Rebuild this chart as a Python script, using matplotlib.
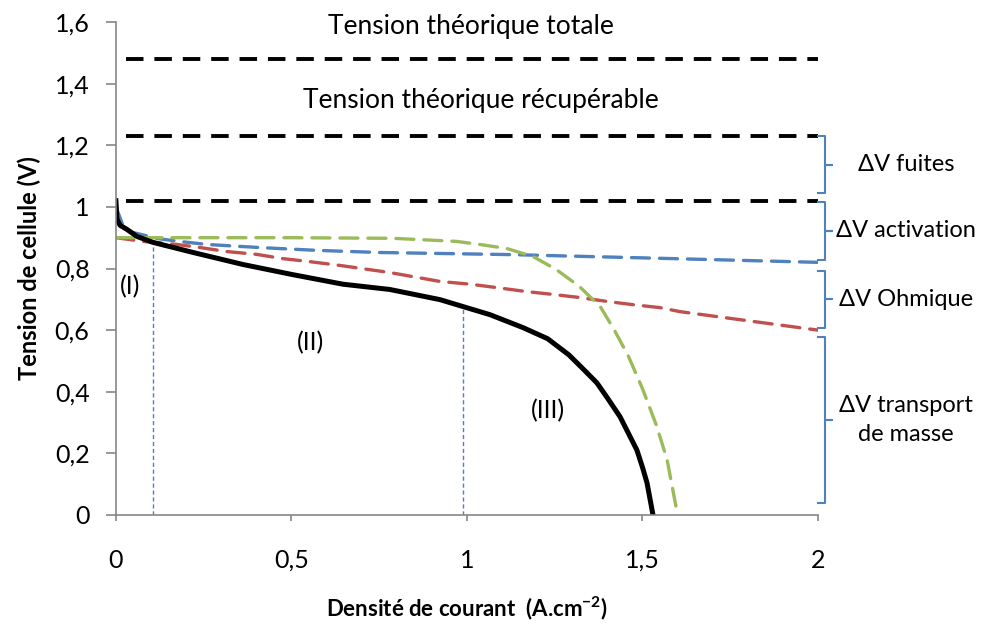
import matplotlib.pyplot as plt

plt.rcParams['font.family'] = ['Lato', 'DejaVu Sans']

# courbe de polarisation réelle
j_real = [0, 0.003, 0.012, 0.03, 0.06, 0.105, 0.22, 0.362, 0.504, 0.647, 0.78, 0.923,
          0.99, 1.066, 1.16, 1.23, 1.29, 1.33, 1.37, 1.40, 1.436, 1.46, 1.484, 1.50, 1.513, 1.53]
v_real = [1.02, 0.96, 0.94, 0.928, 0.904, 0.885, 0.852, 0.813, 0.78, 0.749, 0.732, 0.699,
          0.676, 0.65, 0.608, 0.572, 0.52, 0.475, 0.429, 0.38, 0.319, 0.265, 0.211, 0.155, 0.104, 0.0]

# pertes activation (bleu)
j_act = [0, 0.02, 0.045, 0.12, 0.18, 0.26, 0.41, 0.57, 0.75, 1.13, 1.59, 2.0]
v_act = [1.0, 0.94, 0.918, 0.897, 0.888, 0.878, 0.868, 0.859, 0.852, 0.845, 0.832, 0.82]

# pertes ohmiques (rouge)
j_ohm = [0, 0.077, 0.174, 0.24, 0.316, 0.40, 0.476, 0.547, 0.638, 0.78, 0.923, 1.01,
         1.085, 1.17, 1.236, 1.32, 1.40, 1.47, 1.55, 1.607, 2.0]
v_ohm = [0.9, 0.888, 0.878, 0.868, 0.855, 0.846, 0.832, 0.823, 0.81, 0.787, 0.758, 0.749,
         0.738, 0.725, 0.717, 0.706, 0.693, 0.683, 0.673, 0.66, 0.60]

# transport de masse (vert)
j_mt = [0, 0.5, 0.79, 0.97, 1.037, 1.113, 1.188, 1.254, 1.32, 1.38, 1.42, 1.46, 1.50, 1.54, 1.57, 1.60]
v_mt = [0.90, 0.90, 0.898, 0.888, 0.878, 0.865, 0.839, 0.797, 0.742, 0.676, 0.60, 0.515, 0.41, 0.29, 0.18, 0.0]

# tensions théoriques
v_levels = [1.48, 1.23, 1.02]

# limites des zones (I)/(II)/(III)
zone_j = [0.105, 0.99]
zone_v = [0.885, 0.676]

# accolades : (haut, bas, texte)
braces = [(1.229, 1.044, 'ΔV fuites'),
          (1.015, 0.829, 'ΔV activation'),
          (0.793, 0.608, 'ΔV Ohmique'),
          (0.579, 0.039, 'ΔV transport\nde masse')]

blue = '#4f81bd'
red = '#c0504d'
green = '#9bbb59'
grey = '#868686'

fig = plt.figure(figsize=(10.08, 6.24), dpi=100)
ax = fig.add_axes([0.115, 0.1747, 0.6965, 0.79])

for jz, vz in zip(zone_j, zone_v):
    ax.plot([jz, jz], [0, vz], color=blue, lw=1, dashes=(3, 2))

ax.plot(j_act, v_act, color=blue, lw=2.4, dashes=(5.4, 3), dash_capstyle='round')
ax.plot(j_ohm, v_ohm, color=red, lw=2.4, dashes=(5.4, 3), dash_capstyle='round')
ax.plot(j_mt, v_mt, color=green, lw=2.4, dashes=(5.4, 3), dash_capstyle='round')
ax.plot(j_real, v_real, color='black', lw=3.6, solid_joinstyle='round')

for v in v_levels:
    ax.plot([0.03, 2.0], [v, v], color='black', lw=2.8, dashes=(4.5, 2.8))

ax.text(1.01, 1.584, 'Tension théorique totale', ha='center', va='center', fontsize=19)
ax.text(1.04, 1.346, 'Tension théorique récupérable', ha='center', va='center', fontsize=19)
ax.text(0.04, 0.74, '(I)', ha='center', va='center', fontsize=18)
ax.text(0.555, 0.56, '(II)', ha='center', va='center', fontsize=18)
ax.text(1.23, 0.34, '(III)', ha='center', va='center', fontsize=18)

for top, bot, lab in braces:
    mid = (top + bot) / 2
    ax.plot([2.0, 2.02, 2.02, 2.04, 2.02, 2.02, 2.0], [top, top, mid, mid, mid, bot, bot],
            color=blue, lw=1.5, clip_on=False)
    ax.text(2.25, mid, lab, ha='center', va='center', fontsize=17, linespacing=1.45)

ax.set_xlim(0, 2)
ax.set_ylim(0, 1.6)
ax.set_xticks([0, 0.5, 1, 1.5, 2])
ax.set_xticklabels(['0', '0,5', '1', '1,5', '2'])
ax.set_yticks([0, 0.2, 0.4, 0.6, 0.8, 1.0, 1.2, 1.4, 1.6])
ax.set_yticklabels(['0', '0,2', '0,4', '0,6', '0,8', '1', '1,2', '1,4', '1,6'])
ax.tick_params(labelsize=18, color=grey, width=1.2)
ax.tick_params(axis='x', length=4.5, pad=20)
ax.tick_params(axis='y', length=7, pad=12)
for s in ['top', 'right']:
    ax.spines[s].set_visible(False)
for s in ['left', 'bottom']:
    ax.spines[s].set_color(grey)
    ax.spines[s].set_linewidth(1.2)

ax.set_xlabel('Densité de courant  (A.cm$^{\\mathregular{-2}}$)', fontsize=16, fontweight='bold', labelpad=16)
ax.set_ylabel('Tension de cellule (V)', fontsize=17, fontweight='bold', labelpad=10)

fig.savefig('out.png', dpi=100)
